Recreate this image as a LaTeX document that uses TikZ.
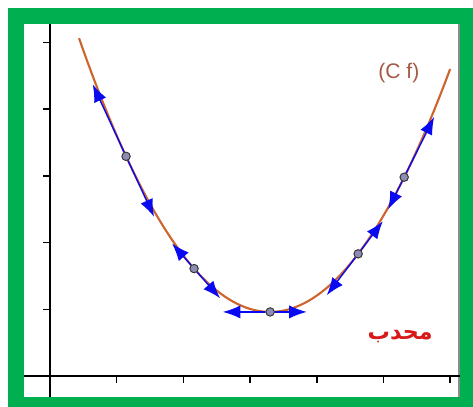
\documentclass[tikz,border=0pt]{standalone}
\usepackage{fontspec}
\setmainfont{Liberation Sans}
\newfontfamily\arabicfont[Script=Arabic]{DejaVu Sans}
\TeXXeTstate=1
\usetikzlibrary{arrows.meta}
\definecolor{figframe}{RGB}{0,176,80}
\definecolor{figedge}{RGB}{140,140,140}
\definecolor{figcurve}{RGB}{205,100,45}
\definecolor{figvec}{RGB}{10,10,240}
\definecolor{figpt}{RGB}{140,140,180}
\definecolor{figlab}{RGB}{165,90,70}
\definecolor{figred}{RGB}{215,25,25}
\tikzset{
  ax/.style  ={draw=black, line width=0.8pt},
  tk/.style  ={draw=black, line width=0.6pt},
  crv/.style ={draw=figcurve, line width=0.9pt},
  vec/.style ={draw=figvec, line width=0.6pt, -{Latex[length=7.5pt,width=5.6pt]}},
  pt/.style  ={circle, draw=black!80, fill=figpt, line width=0.4pt, inner sep=0pt, minimum size=3.6pt},
  lab/.style ={font=\fontsize{9}{10}\selectfont, text=figlab, inner sep=1pt},
  arb/.style ={font=\arabicfont\bfseries\fontsize{9.5}{11}\selectfont, text=figred, inner sep=1pt},
}
\begin{document}
\begin{tikzpicture}[x=1cm,y=1cm]
  \useasboundingbox (-0.75,-0.465) rectangle (6.342,5.637);
  \fill[figframe] (-0.63,-0.465) rectangle (6.342,5.517);
  \fill[white] (-0.39,-0.315) rectangle (6.147,5.277);
  \draw[figedge, line width=0.8pt] (6.135,5.277) -- (6.135,-0.315);
  \draw[ax] (-0.39,0) -- (6.147,0);
  \draw[ax] (0,-0.315) -- (0,5.277);
  \draw[tk] (-0.1,1) -- (0,1);
  \draw[tk] (-0.1,2) -- (0,2);
  \draw[tk] (-0.1,3) -- (0,3);
  \draw[tk] (-0.1,4) -- (0,4);
  \draw[tk] (-0.1,5) -- (0,5);
  \draw[tk] (1,0) -- (1,-0.1);
  \draw[tk] (2,0) -- (2,-0.1);
  \draw[tk] (3,0) -- (3,-0.1);
  \draw[tk] (4,0) -- (4,-0.1);
  \draw[tk] (5,0) -- (5,-0.1);
  \draw[tk] (6,0) -- (6,-0.1);
  \draw[crv] plot[domain=0.435:6.0, samples=90] (\x,{0.5*(\x-3.3)^2+0.96});
  \node[pt] (pA) at (1.14,3.293) {};
  \node[pt] (pB) at (2.16,1.610) {};
  \node[pt] (pC) at (3.30,0.960) {};
  \node[pt] (pD) at (4.62,1.831) {};
  \node[pt] (pE) at (5.31,2.980) {};
  \coordinate (pA1) at (0.64,4.373);
  \coordinate (pA2) at (1.56,2.386);
  \coordinate (pB1) at (1.83,1.986);
  \coordinate (pB2) at (2.55,1.165);
  \coordinate (pC1) at (2.59,0.960);
  \coordinate (pC2) at (3.85,0.960);
  \coordinate (pD1) at (4.15,1.211);
  \coordinate (pD2) at (4.99,2.319);
  \coordinate (pE1) at (5.07,2.498);
  \coordinate (pE2) at (5.76,3.885);
  \draw[vec] (pA) -- (pA1);
  \draw[vec] (pA) -- (pA2);
  \draw[vec] (pB) -- (pB1);
  \draw[vec] (pB) -- (pB2);
  \draw[vec] (pC) -- (pC1);
  \draw[vec] (pC) -- (pC2);
  \draw[vec] (pD) -- (pD1);
  \draw[vec] (pD) -- (pD2);
  \draw[vec] (pE) -- (pE1);
  \draw[vec] (pE) -- (pE2);
  \node[lab] (cf) at (5.23,4.54) {(C f)};
  \node[arb] (cvx) at (5.25,0.585) {\beginR محدب\endR};
\end{tikzpicture}
\end{document}
